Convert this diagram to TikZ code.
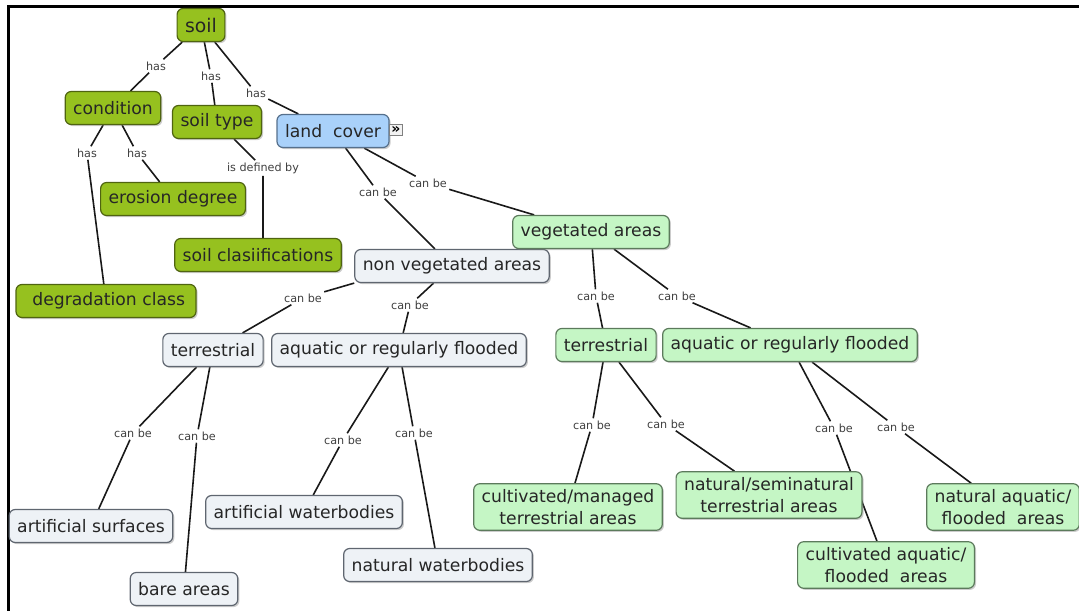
\documentclass[tikz,border=0pt]{standalone}
\usepackage{fontspec}
\setmainfont{DejaVu Sans}
\usepackage{tikz}
\usepackage{xcolor}
\usetikzlibrary{shadows,backgrounds}

\definecolor{soilfill}{HTML}{96C11F}
\definecolor{soilline}{HTML}{4F6410}
\definecolor{coverfill}{HTML}{A9D1FA}
\definecolor{coverline}{HTML}{56708C}
\definecolor{nvfill}{HTML}{EEF2F6}
\definecolor{nvline}{HTML}{5F6670}
\definecolor{vegfill}{HTML}{C5F6C5}
\definecolor{vegline}{HTML}{5C7A5C}

\begin{document}
\begin{tikzpicture}[x=0.5pt,y=-0.5pt,
		concept/.style = {rounded corners=3pt, line width=0.6pt, align=center,
			inner xsep=4pt, inner ysep=3pt, minimum height=16.5pt,
			font=\fontsize{8.6}{10.6}\selectfont, text=black!85,
			drop shadow={shadow xshift=0.8pt, shadow yshift=-0.8pt, opacity=0.4}
		},
		soilbox/.style = {concept, draw=soilline, fill=soilfill},
		coverbox/.style = {concept, draw=coverline, fill=coverfill},
		nvbox/.style = {concept, draw=nvline, fill=nvfill},
		vegbox/.style = {concept, draw=vegline, fill=vegfill},
		lbl/.style = {fill=white, inner sep=1pt, text=black!75,
			font=\fontsize{5.6}{6}\selectfont},
		link/.style = {line width=0.8pt, black!90},
		]
		\useasboundingbox (0,0) rectangle (1079,610);
		\clip (0,0) rectangle (1079,610);
		\draw[line width=1.5pt] (8,7) rectangle (1100,640);

		% soil part
		\node[soilbox, font=\fontsize{9.4}{11}\selectfont] (soil) at (201,25) {soil};
		\node[soilbox] (cond) at (113,108) {condition};
		\node[soilbox] (stype) at (217,122) {soil type};
		\node[coverbox, minimum width=56pt] (cover) at (333,131) {land~~cover};
		\node[draw=black!50, fill=black!5, inner sep=0.8pt, font=\fontsize{7}{7}\selectfont\bfseries] (coverlink) at (396,130) {»};
		\node[soilbox] (erosion) at (173,199) {erosion degree};
		\node[soilbox] (sclass) at (258,255) {soil clasiifications};
		\node[soilbox, minimum width=90pt] (degr) at (106,301) {~degradation class};

		% land cover
		\node[nvbox] (nonveg) at (452,266) {non vegetated areas};
		\node[vegbox] (veg) at (591,232) {vegetated areas};
		\node[nvbox] (nvterr) at (213,350) {terrestrial};
		\node[nvbox] (nvaqua) at (399,350) {aquatic or regularly flooded};
		\node[vegbox] (vterr) at (606,345) {terrestrial};
		\node[vegbox] (vaqua) at (790,345) {aquatic or regularly flooded};
		\node[nvbox] (artsurf) at (91,526) {artificial surfaces};
		\node[nvbox] (bare) at (184,589) {bare areas};
		\node[nvbox] (artwater) at (304,512) {artificial waterbodies};
		\node[nvbox] (natwater) at (438,565) {natural waterbodies};
		\node[vegbox] (cultterr) at (568,507) {cultivated/managed\\terrestrial areas};
		\node[vegbox] (natterr) at (769,495) {natural/seminatural\\terrestrial areas};
		\node[vegbox] (cultaqua) at (886,565) {cultivated aquatic/\\flooded~~areas};
		\node[vegbox] (nataqua) at (1003,507) {natural aquatic/\\flooded~~areas};

		% linking phrases
		\node[lbl] (has1) at (156,66) {has};
		\node[lbl] (has2) at (211,76) {has};
		\node[lbl] (has3) at (256,93) {has};
		\node[lbl] (has4) at (87,153) {has};
		\node[lbl] (has5) at (137,153) {has};
		\node[lbl] (isdef) at (263,168) {is defined by};
		\node[lbl] (cb1) at (378,192) {can be};
		\node[lbl] (cb2) at (428,183) {can be};
		\node[lbl] (cb3) at (303,298) {can be};
		\node[lbl] (cb4) at (410,305) {can be};
		\node[lbl] (cb5) at (596,296) {can be};
		\node[lbl] (cb6) at (677,296) {can be};
		\node[lbl] (cb7) at (133,433) {can be};
		\node[lbl] (cb8) at (197,436) {can be};
		\node[lbl] (cb9) at (343,440) {can be};
		\node[lbl] (cb10) at (414,433) {can be};
		\node[lbl] (cb11) at (592,425) {can be};
		\node[lbl] (cb12) at (666,424) {can be};
		\node[lbl] (cb13) at (834,428) {can be};
		\node[lbl] (cb14) at (896,427) {can be};

		\begin{pgfonlayer}{background}
			\draw[link] (soil) -- (has1) -- (cond);
			\draw[link] (soil) -- (has2) -- (stype);
			\draw[link] (soil) -- (has3) -- (cover);
			\draw[link] (cond) -- (has4) -- (degr);
			\draw[link] (cond) -- (has5) -- (erosion);
			\draw[link] (stype) -- (isdef) -- (isdef |- sclass.north);
			\draw[link] (cover) -- (cb1) -- (nonveg);
			\draw[link] (cover) -- (cb2) -- (veg);
			\draw[link] (nonveg.south west) -- (cb3) -- (nvterr);
			\draw[link] (nonveg) -- (cb4) -- (nvaqua);
			\draw[link] (veg) -- (cb5) -- (vterr);
			\draw[link] (veg) -- (cb6) -- (vaqua);
			\draw[link] (nvterr) -- (cb7) -- (artsurf);
			\draw[link] (nvterr) -- (cb8) -- (bare);
			\draw[link] (nvaqua) -- (cb9) -- (artwater);
			\draw[link] (nvaqua) -- (cb10) -- (natwater);
			\draw[link] (vterr) -- (cb11) -- (cultterr);
			\draw[link] (vterr) -- (cb12) -- (natterr);
			\draw[link] (vaqua) -- (cb13) -- (cultaqua);
			\draw[link] (vaqua) -- (cb14) -- (nataqua);
		\end{pgfonlayer}
	\end{tikzpicture}
\end{document}
